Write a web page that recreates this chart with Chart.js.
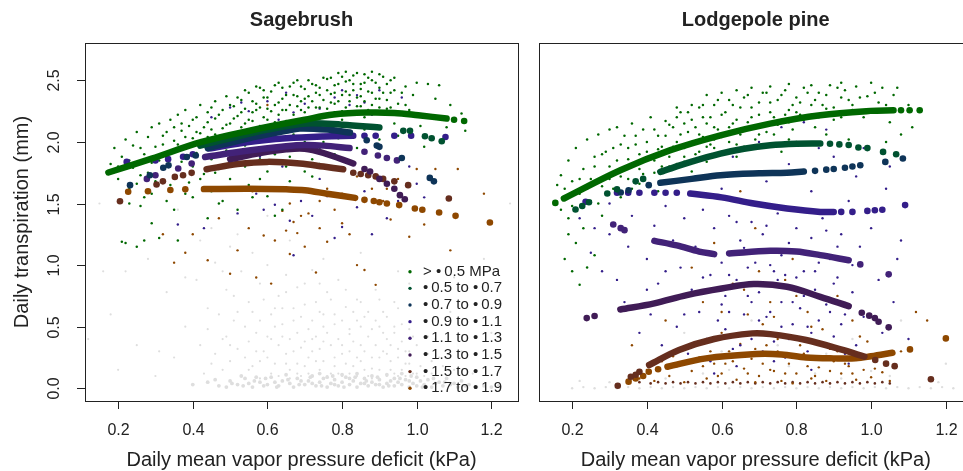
<!DOCTYPE html>
<html>
<head>
<meta charset="utf-8">
<script src="https://cdn.jsdelivr.net/npm/chart.js@4.4.1/dist/chart.umd.min.js"></script>
<style>
body { margin: 0; background: #fff; overflow: hidden; }
#wrap { position: relative; width: 963px; height: 471px; overflow: hidden; }
canvas { position: absolute; left: 0; top: 0; }
</style>
</head>
<body>
<div id="wrap">
<canvas id="sage" width="963" height="471"></canvas>
<canvas id="pine" width="990" height="471"></canvas>
</div>
<script>
// axis ranges + ticks
const xMin = 0.1113, xMax = 1.2713;
const yMin = -0.103, yMax = 2.803;
const xTicks = [0.2, 0.4, 0.6, 0.8, 1.0, 1.2];
const yTicks = [0.0, 0.5, 1.0, 1.5, 2.0, 2.5];

// soil water potential classes
const classes = ["> \u2022\u20090.5 MPa", "\u2022\u20090.5 to \u2022\u20090.7", "\u2022\u20090.7 to \u2022\u20090.9", "\u2022\u20090.9 to \u2022\u20091.1",
  "\u2022\u20091.1 to \u2022\u20091.3", "\u2022\u20091.3 to \u2022\u20091.5", "\u2022\u20091.5 to \u2022\u20091.7", "\u2022\u20091.7 to \u2022\u20091.9"];
const classColors = ["rgb(0,104,0)", "rgb(0,82,48)", "rgb(14,52,88)", "rgb(52,30,138)",
  "rgb(66,34,120)", "rgb(64,28,86)", "rgb(102,46,30)", "rgb(142,72,0)"];

// Sagebrush fitted curves (solid part) and loose dots
const sageFitX = [
  [0.174, 0.29, 0.424, 0.558, 0.70, 0.777, 0.866, 0.94, 1.004, 1.08],
  [0.42, 0.5, 0.6, 0.705, 0.8, 0.9],
  [0.44, 0.55, 0.65, 0.687, 0.76, 0.821],
  [0.442, 0.55, 0.65, 0.75, 0.83],
  [0.433, 0.55, 0.65, 0.70, 0.75, 0.82],
  [0.50, 0.58, 0.65, 0.70, 0.75, 0.83],
  [0.437, 0.52, 0.6, 0.687, 0.75, 0.803],
  [0.43, 0.55, 0.65, 0.70, 0.76, 0.835]
];
const sageFitY = [
  [1.752, 1.865, 2.0, 2.095, 2.18, 2.222, 2.238, 2.235, 2.216, 2.19],
  [1.97, 2.03, 2.10, 2.15, 2.14, 2.117],
  [1.95, 2.03, 2.09, 2.109, 2.10, 2.076],
  [1.946, 2.0, 2.03, 2.045, 2.05],
  [1.878, 1.93, 1.965, 1.975, 1.97, 1.95],
  [1.86, 1.91, 1.94, 1.945, 1.91, 1.825],
  [1.778, 1.82, 1.838, 1.825, 1.80, 1.778],
  [1.617, 1.62, 1.615, 1.608, 1.58, 1.546]
];
const sageDotX = [
  [1.10, 1.127],
  [0.964, 0.982, 1.022, 1.04, 1.067],
  [0.232, 0.285, 0.321, 0.335, 0.384, 0.408, 0.866, 0.893, 0.90, 0.96, 1.035, 1.046],
  [0.223, 0.30, 0.334, 0.374, 0.40, 0.86, 0.89, 0.94, 0.985, 1.077],
  [0.277, 0.30, 0.361, 0.397, 0.86, 0.896, 0.92, 0.947],
  [0.86, 0.875, 0.90, 0.92, 0.94, 0.955, 0.968],
  [0.205, 0.303, 0.32, 0.352, 0.374, 0.397, 0.83, 0.85, 0.87, 0.89, 0.91, 0.94, 0.977, 1.086],
  [0.227, 0.28, 0.34, 0.38, 0.86, 0.885, 0.90, 0.92, 0.953, 0.995, 1.015, 1.06, 1.104, 1.196]
];
const sageDotY = [
  [2.18, 2.17],
  [2.09, 2.09, 2.046, 2.03, 2.005],
  [1.649, 1.73, 1.79, 1.81, 1.878, 1.89, 2.014, 1.97, 1.96, 1.87, 1.708, 1.68],
  [1.838, 1.85, 1.86, 1.88, 1.90, 2.05, 2.05, 2.05, 2.05, 2.04],
  [1.70, 1.73, 1.784, 1.825, 1.92, 1.89, 1.87, 1.85],
  [1.78, 1.76, 1.70, 1.66, 1.62, 1.568, 1.535],
  [1.519, 1.654, 1.68, 1.716, 1.73, 1.749, 1.75, 1.74, 1.73, 1.72, 1.70, 1.68, 1.649, 1.541],
  [1.595, 1.60, 1.61, 1.615, 1.53, 1.52, 1.51, 1.50, 1.487, 1.46, 1.45, 1.427, 1.40, 1.346]
];

// Sagebrush raw daily points (x,y pairs)
const sageGreen = [
  0.18,1.82, 0.19,1.95, 0.20,1.70, 0.21,1.88, 0.22,2.02, 0.23,1.62, 0.24,1.79, 0.24,1.97, 0.25,2.08, 0.26,1.73,
  0.27,1.90, 0.27,1.55, 0.28,2.04, 0.29,1.83, 0.29,2.12, 0.30,1.68, 0.30,1.96, 0.31,2.15, 0.32,1.78, 0.32,2.05,
  0.21,1.19, 0.22,1.18, 0.25,1.15, 0.27,1.20, 0.29,1.34, 0.31,1.22, 0.23,1.50, 0.26,1.48, 0.33,1.52, 0.35,1.45,
  0.33,1.88, 0.34,2.18, 0.35,1.72, 0.35,2.01, 0.36,2.22, 0.37,1.84, 0.37,2.09, 0.38,1.95, 0.38,2.26, 0.39,1.67,
  0.39,2.13, 0.40,2.03, 0.40,1.80, 0.41,2.20, 0.41,1.91, 0.42,2.30, 0.42,2.07, 0.43,1.74, 0.43,1.98, 0.44,2.16,
  0.44,2.24, 0.45,1.86, 0.45,2.10, 0.45,1.60, 0.46,2.19, 0.46,2.33, 0.47,2.02, 0.47,1.78, 0.48,2.26, 0.48,2.11,
  0.49,1.93, 0.49,2.37, 0.50,2.15, 0.50,1.70, 0.51,2.29, 0.51,2.05, 0.52,2.21, 0.52,1.88, 0.53,2.34, 0.53,2.12,
  0.54,1.97, 0.54,2.27, 0.55,2.40, 0.55,2.18, 0.56,1.82, 0.56,2.24, 0.57,2.08, 0.57,2.31, 0.58,2.44, 0.58,1.95,
  0.59,2.20, 0.59,2.36, 0.60,2.27, 0.60,1.76, 0.47,1.50, 0.52,1.45, 0.56,1.55, 0.61,2.14, 0.61,2.41, 0.62,2.30,
  0.62,1.90, 0.63,2.48, 0.63,2.22, 0.64,2.02, 0.64,2.35, 0.65,2.26, 0.65,1.80, 0.66,2.45, 0.66,2.16, 0.67,2.38,
  0.67,2.06, 0.68,2.29, 0.68,2.50, 0.69,1.95, 0.69,2.33, 0.70,2.24, 0.70,2.43, 0.71,2.10, 0.71,2.37, 0.72,2.47,
  0.72,1.86, 0.73,2.28, 0.73,2.40, 0.74,2.19, 0.74,2.44, 0.75,2.34, 0.75,2.00, 0.64,1.45, 0.68,1.60, 0.72,1.72,
  0.76,2.51, 0.76,2.27, 0.77,2.39, 0.77,2.12, 0.78,2.46, 0.78,2.31, 0.79,2.56, 0.79,2.03, 0.80,2.38, 0.80,2.25,
  0.81,2.49, 0.81,2.57, 0.82,2.33, 0.82,2.15, 0.83,2.42, 0.83,2.54, 0.84,2.29, 0.84,1.95, 0.85,2.47, 0.85,2.37,
  0.86,2.55, 0.86,2.20, 0.87,2.41, 0.88,2.30, 0.88,2.50, 0.89,2.11, 0.90,2.44, 0.90,2.35, 0.91,2.53, 0.92,2.27,
  0.92,2.47, 0.93,2.40, 0.94,2.52, 0.95,2.31, 0.95,2.05, 0.97,2.45, 0.98,2.26, 1.00,2.48, 1.01,2.13, 1.03,2.47,
  1.05,2.35, 1.06,2.46, 1.08,2.12, 1.09,2.30, 1.12,2.23, 1.13,2.09, 1.02,1.96, 1.07,2.02, 0.58,1.70, 0.62,1.62,
  0.66,1.68, 0.70,1.76, 0.74,1.82, 0.78,1.90, 0.60,1.56, 0.55,1.65,
  0.36,1.98, 0.37,2.15, 0.38,2.04, 0.39,1.89, 0.40,2.18, 0.41,2.08, 0.42,1.96, 0.43,2.12, 0.44,2.04, 0.45,2.28,
  0.46,2.06, 0.47,2.22, 0.48,1.97, 0.49,2.14, 0.50,2.30, 0.50,2.02, 0.51,2.19, 0.52,2.36, 0.52,2.08, 0.53,2.24,
  0.54,2.15, 0.54,2.42, 0.55,2.09, 0.56,2.33, 0.56,2.17, 0.57,2.26, 0.57,2.45, 0.58,2.13, 0.58,2.28, 0.59,2.06,
  0.59,2.42, 0.60,2.18, 0.60,2.36, 0.61,2.25, 0.61,2.05, 0.62,2.46, 0.62,2.16, 0.63,2.32, 0.63,2.08, 0.64,2.26,
  0.64,2.44, 0.65,2.17, 0.65,2.38, 0.66,2.30, 0.66,2.04, 0.67,2.22, 0.67,2.48, 0.68,2.14, 0.68,2.37, 0.69,2.26,
  0.69,2.45, 0.70,2.10, 0.70,2.35, 0.71,2.28, 0.71,2.50, 0.72,2.18, 0.72,2.33, 0.73,2.46, 0.73,2.12, 0.74,2.38,
  0.74,2.28, 0.75,2.52, 0.75,2.22, 0.76,2.42, 0.76,2.16, 0.77,2.32, 0.77,2.52, 0.78,2.24, 0.78,2.40, 0.79,2.33,
  0.79,2.47, 0.80,2.18, 0.80,2.53, 0.81,2.41, 0.81,2.28, 0.82,2.50, 0.82,2.38, 0.83,2.24, 0.83,2.47, 0.84,2.36,
  0.84,2.56, 0.85,2.29, 0.85,2.43, 0.86,2.33, 0.86,2.48, 0.87,2.52, 0.87,2.26, 0.88,2.40, 0.88,2.57, 0.89,2.35,
  0.89,2.48, 0.90,2.28, 0.90,2.55, 0.91,2.40, 0.92,2.34, 0.93,2.50, 0.93,2.28, 0.94,2.42, 0.96,2.40, 0.97,2.30,
  0.99,2.38, 0.31,1.85, 0.32,1.98, 0.33,2.08, 0.34,1.92, 0.35,2.12, 0.28,1.75, 0.26,1.95, 0.23,1.85, 0.20,1.80,
  0.25,1.66, 0.34,1.65, 0.38,1.58, 0.42,1.70, 0.46,1.75, 0.50,1.85, 0.54,1.80, 0.58,1.86, 0.62,1.96, 0.66,1.88,
  0.70,2.00, 0.74,1.94, 0.78,2.08, 0.82,2.05, 0.86,2.10, 0.90,2.02, 0.94,2.15, 0.40,1.55, 0.48,1.52, 0.62,1.40,
  0.44,1.38, 0.36,1.20, 0.29,1.58
];
const sagePurple = [
  0.45,2.20, 0.50,2.28, 0.55,2.25, 0.60,2.33, 0.63,2.18, 0.67,2.24, 0.70,2.31, 0.74,2.27, 0.78,2.36, 0.82,2.30,
  0.86,2.32, 0.90,2.42, 0.96,2.36, 0.40,1.75, 0.48,1.63, 0.52,1.42, 0.57,1.58, 0.62,1.49, 0.66,1.36, 0.69,1.52,
  0.72,1.40, 0.76,1.56, 0.80,1.31, 0.84,1.47, 0.88,1.25, 0.92,1.38, 0.95,1.52, 1.00,1.66, 0.43,1.30, 0.36,1.33,
  0.67,1.08, 0.78,1.22, 0.74,1.70, 0.86,1.60, 0.98,1.80, 1.02,1.55, 0.58,1.88, 0.64,1.80, 0.53,2.32, 0.65,2.40,
  0.72,2.20, 0.80,2.42, 0.84,2.38, 0.88,2.22, 0.59,1.45, 0.70,1.62, 0.82,1.54, 0.90,1.70
];
const sageBrown = [
  0.32,1.25, 0.35,1.02, 0.38,1.10, 0.40,1.25, 0.44,1.04, 0.47,1.38, 0.50,0.93, 0.52,1.12, 0.55,1.30, 0.57,0.90,
  0.59,1.24, 0.61,0.85, 0.62,1.20, 0.64,1.44, 0.65,1.28, 0.66,1.09, 0.67,1.35, 0.68,1.26, 0.70,1.15, 0.71,1.42,
  0.73,0.94, 0.74,1.30, 0.76,1.19, 0.78,1.45, 0.80,1.34, 0.82,1.25, 0.84,1.00, 0.86,0.96, 0.88,1.62, 0.89,0.84,
  0.91,1.52, 0.93,1.37, 0.95,1.70, 0.98,1.23, 1.00,1.78, 1.02,1.33, 1.05,1.78, 1.09,1.12, 1.11,1.78, 1.18,1.58,
  0.60,2.30, 0.72,2.14, 0.56,1.60, 0.76,1.62, 0.84,1.72, 0.92,1.62, 0.66,1.50, 0.69,1.40, 0.74,1.52, 0.80,1.58
];
const sageGray = [
  0.15,1.50, 0.18,0.60, 0.22,0.95, 0.28,1.05, 0.31,0.30, 0.33,0.78, 0.36,1.45, 0.38,0.50, 0.41,0.88, 0.42,1.20,
  0.44,0.65, 0.46,1.02, 0.48,0.40, 0.49,0.80, 0.50,1.15, 0.51,0.55, 0.53,0.95, 0.54,0.25, 0.55,0.70, 0.56,1.10,
  0.57,0.45, 0.58,0.85, 0.59,0.30, 0.60,1.00, 0.61,0.60, 0.62,0.20, 0.63,0.75, 0.64,0.42, 0.65,0.92, 0.66,0.15,
  0.67,0.55, 0.68,0.82, 0.69,0.33, 0.70,0.68, 0.71,0.48, 0.72,0.96, 0.73,0.22, 0.74,0.62, 0.75,0.38, 0.76,0.78,
  0.77,0.12, 0.78,0.52, 0.79,0.88, 0.80,0.28, 0.81,0.66, 0.82,0.44, 0.83,0.18, 0.84,0.72, 0.85,0.35, 0.86,0.58,
  0.87,0.10, 0.88,0.48, 0.89,0.80, 0.90,0.25, 0.91,0.62, 0.92,0.40, 0.93,0.15, 0.94,0.70, 0.95,0.32, 0.96,0.52,
  0.97,0.20, 0.98,0.85, 0.99,0.42, 1.00,0.12, 1.02,0.55, 1.03,0.28, 1.05,0.40, 1.07,0.18, 1.09,0.62, 1.12,0.30,
  1.15,0.12, 1.20,0.45, 1.25,1.50, 0.45,0.20, 0.50,0.35, 0.55,0.15, 0.60,0.42, 0.65,0.28, 0.70,0.18, 0.75,0.50,
  0.80,0.10, 0.85,0.22, 0.90,0.50, 0.95,0.10, 0.52,0.62, 0.62,0.50, 0.72,0.40, 0.82,0.30, 0.92,0.28, 0.58,0.22,
  0.68,0.12, 0.78,0.25, 0.88,0.16, 0.98,0.30, 0.64,0.65, 0.74,0.85, 0.84,0.55, 0.94,0.45, 1.04,0.22,
  0.42,0.35, 0.43,0.12, 0.44,0.48, 0.46,0.28, 0.47,0.60, 0.48,0.15, 0.49,0.42, 0.50,0.22, 0.51,0.75, 0.52,0.32,
  0.53,0.10, 0.54,0.50, 0.55,0.38, 0.56,0.62, 0.56,0.18, 0.57,0.30, 0.58,0.55, 0.58,0.08, 0.59,0.72, 0.60,0.25,
  0.61,0.40, 0.61,0.12, 0.62,0.65, 0.63,0.35, 0.63,0.10, 0.64,0.52, 0.65,0.20, 0.65,0.78, 0.66,0.40, 0.66,0.08,
  0.67,0.30, 0.67,0.65, 0.68,0.45, 0.68,0.20, 0.69,0.58, 0.69,0.10, 0.70,0.38, 0.70,0.85, 0.71,0.25, 0.71,0.12,
  0.72,0.55, 0.72,0.30, 0.73,0.70, 0.73,0.42, 0.74,0.15, 0.74,0.32, 0.75,0.60, 0.75,0.22, 0.76,0.45, 0.76,0.10,
  0.77,0.35, 0.77,0.72, 0.78,0.18, 0.78,0.60, 0.79,0.40, 0.79,0.12, 0.80,0.55, 0.80,0.35, 0.81,0.20, 0.81,0.80,
  0.82,0.48, 0.82,0.12, 0.83,0.38, 0.83,0.62, 0.84,0.25, 0.84,0.10, 0.85,0.50, 0.85,0.70, 0.86,0.30, 0.86,0.15,
  0.87,0.42, 0.87,0.62, 0.88,0.25, 0.88,0.08, 0.89,0.35, 0.89,0.55, 0.90,0.15, 0.90,0.72, 0.91,0.30, 0.91,0.45,
  0.92,0.10, 0.92,0.58, 0.93,0.35, 0.93,0.22, 0.94,0.12, 0.94,0.50, 0.95,0.25, 0.95,0.65, 0.96,0.15, 0.96,0.38,
  0.97,0.30, 0.97,0.10, 0.98,0.48, 0.98,0.20, 0.99,0.12, 1.00,0.35, 1.01,0.18, 1.02,0.10, 1.03,0.42, 1.04,0.12,
  1.06,0.25, 1.08,0.08, 1.10,0.15, 0.35,0.25, 0.30,0.10, 0.25,0.35, 0.20,0.15, 0.38,0.90, 0.45,1.30, 0.52,1.25,
  0.60,1.40, 0.48,0.95, 0.66,1.20, 0.75,1.05, 0.85,1.10, 0.95,0.95, 1.10,0.90, 1.18,1.05, 0.16,0.95, 0.12,0.40,
  1.22,0.30
];
const sageGrayBand = [
  0.40,0.03, 0.44,0.05, 0.47,0.02, 0.50,0.06, 0.52,0.03, 0.54,0.08, 0.56,0.01, 0.58,0.05, 0.60,0.03, 0.61,0.09,
  0.63,0.02, 0.64,0.06, 0.66,0.04, 0.67,0.01, 0.68,0.08, 0.70,0.03, 0.71,0.06, 0.72,0.10, 0.73,0.02, 0.74,0.05,
  0.75,0.08, 0.76,0.01, 0.77,0.04, 0.78,0.07, 0.79,0.02, 0.80,0.05, 0.81,0.09, 0.82,0.03, 0.83,0.06, 0.84,0.01,
  0.85,0.04, 0.86,0.08, 0.87,0.02, 0.88,0.05, 0.89,0.03, 0.90,0.07, 0.91,0.01, 0.92,0.04, 0.93,0.06, 0.94,0.02,
  0.95,0.05, 0.96,0.03, 0.97,0.07, 0.98,0.01, 0.99,0.04, 1.00,0.02, 1.01,0.06, 1.02,0.03, 1.04,0.01, 1.05,0.04,
  1.07,0.02, 1.09,0.03, 1.11,0.01, 1.13,0.02, 1.16,0.01,
  0.46,0.07, 0.49,0.01, 0.53,0.10, 0.55,0.04, 0.57,0.09, 0.59,0.02, 0.62,0.05, 0.65,0.11, 0.69,0.06, 0.72,0.04,
  0.74,0.12, 0.76,0.09, 0.78,0.03, 0.80,0.11, 0.82,0.08, 0.84,0.12, 0.86,0.04, 0.88,0.10, 0.90,0.03, 0.92,0.11,
  0.94,0.08, 0.96,0.12, 0.98,0.06, 1.00,0.09, 1.03,0.07, 1.06,0.05, 1.08,0.08, 1.10,0.04, 1.12,0.06, 1.14,0.03,
  1.18,0.02, 1.20,0.01, 1.22,0.02,
  0.505,0.04, 0.535,0.02, 0.565,0.06, 0.595,0.08, 0.625,0.01, 0.655,0.07, 0.685,0.03, 0.715,0.09, 0.745,0.02, 0.775,0.10,
  0.805,0.01, 0.835,0.09, 0.865,0.06, 0.895,0.09, 0.925,0.02, 0.955,0.08, 0.985,0.10, 1.015,0.01, 1.045,0.08, 1.075,0.05
];

// Lodgepole pine fitted curves (null = gap in the curve)
const pineFitX = [
  [0.178, 0.329, 0.463, 0.597, 0.73, 0.864, 0.998, 1.06],
  [0.436, 0.52, 0.597, 0.66, 0.73, 0.80, 0.864],
  [0.436, 0.52, 0.597, 0.70, 0.775, 0.82],
  [0.516, 0.60, 0.686, 0.775, 0.864, 0.90],
  [0.42, 0.48, 0.54, 0.58, 0.60, 0.62, 0.73, 0.80, 0.864, 0.94],
  [0.329, 0.42, 0.507, 0.60, 0.686, 0.775, 0.864, 0.94],
  [0.406, 0.486, 0.58, 0.682, 0.73, 0.826, 0.924, 0.982],
  [0.455, 0.558, 0.692, 0.76, 0.826, 0.9, 0.959, 1.0, 1.057]
];
const pineFitY = [
  [1.541, 1.77, 1.933, 2.054, 2.149, 2.217, 2.252, 2.257],
  [1.757, 1.84, 1.905, 1.945, 1.973, 1.985, 1.987],
  [1.668, 1.70, 1.73, 1.745, 1.749, 1.76],
  [1.581, 1.55, 1.50, 1.46, 1.432, 1.432],
  [1.197, 1.16, 1.11, 1.089, null, 1.095, 1.116, 1.11, 1.081, 1.04],
  [0.64, 0.69, 0.757, 0.81, 0.846, 0.824, 0.743, 0.667],
  [0.189, 0.311, 0.40, 0.446, 0.44, 0.392, 0.311, 0.257],
  [0.175, 0.243, 0.278, 0.275, 0.251, 0.243, 0.243, 0.26, 0.289]
];
const pineDotX = [
  [0.155, 1.08, 1.103, 1.13],
  [0.209, 0.227, 0.245, 0.294, 0.32, 0.37, 0.39, 0.89, 0.915, 0.94, 0.966, 0.99, 1.032, 1.067],
  [0.33, 0.351, 0.405, 0.85, 0.88, 0.90, 0.93, 0.95, 0.971, 1.038, 1.085],
  [0.236, 0.32, 0.35, 0.38, 0.42, 0.45, 0.48, 0.92, 0.95, 0.99, 1.01, 1.03, 1.091],
  [0.31, 0.33, 0.34, 0.971, 1.047],
  [0.239, 0.26, 0.975, 0.995, 1.01, 1.02, 1.047],
  [0.322, 0.357, 0.37, 0.38, 1.011, 1.04, 1.063, 1.16],
  [0.351, 0.37, 0.39, 0.405, 0.43, 1.104, 1.20]
];
const pineDotY = [
  [1.505, 2.257, 2.257, 2.257],
  [1.451, 1.48, 1.51, 1.581, 1.615, 1.68, 1.70, 1.985, 1.98, 1.975, 1.955, 1.95, 1.919, 1.90],
  [1.59, 1.608, 1.649, 1.765, 1.775, 1.78, 1.79, 1.80, 1.811, 1.838, 1.865],
  [1.514, 1.587, 1.587, 1.587, 1.587, 1.587, 1.587, 1.432, 1.432, 1.44, 1.445, 1.45, 1.487],
  [1.33, 1.30, 1.284, 1.006, 0.925],
  [0.57, 0.587, 0.613, 0.59, 0.57, 0.54, 0.495],
  [0.021, 0.094, 0.11, 0.135, 0.23, 0.20, 0.18, 0.073],
  [0.054, 0.08, 0.10, 0.135, 0.155, 0.316, 0.405]
];

// Lodgepole pine raw daily points
const pineGreen = [
  0.17,1.73, 0.18,1.62, 0.19,1.85, 0.20,1.68, 0.21,1.95, 0.22,1.58, 0.23,1.78, 0.24,2.02, 0.25,1.70, 0.26,1.88,
  0.27,2.06, 0.28,1.64, 0.29,1.92, 0.30,1.80, 0.30,2.10, 0.17,1.45, 0.19,1.38, 0.21,1.18, 0.23,1.30, 0.20,0.95,
  0.22,0.84, 0.24,0.98, 0.26,1.08, 0.18,1.05, 0.28,1.40, 0.25,1.52, 0.31,1.95, 0.32,2.12, 0.33,1.72, 0.34,2.05,
  0.35,1.86, 0.36,2.15, 0.37,1.98, 0.38,1.78, 0.39,2.10, 0.40,1.92, 0.41,2.20, 0.42,1.85, 0.43,2.05, 0.44,1.96,
  0.45,2.17, 0.33,1.55, 0.36,1.62, 0.40,1.65, 0.43,1.60, 0.46,1.88, 0.47,2.12, 0.48,2.00, 0.49,2.24, 0.50,1.95,
  0.51,2.08, 0.52,2.18, 0.53,1.90, 0.54,2.28, 0.55,2.04, 0.56,2.15, 0.57,1.98, 0.58,2.30, 0.59,2.10, 0.60,2.22,
  0.48,1.82, 0.52,1.76, 0.56,1.84, 0.60,1.92, 0.50,2.15, 0.55,2.20, 0.58,2.02, 0.61,2.05, 0.62,2.34, 0.63,2.15,
  0.64,1.98, 0.65,2.28, 0.66,2.10, 0.67,2.38, 0.68,2.20, 0.69,2.02, 0.70,2.32, 0.71,2.14, 0.72,2.40, 0.73,2.24,
  0.74,2.06, 0.75,2.34, 0.76,2.18, 0.77,2.42, 0.78,2.26, 0.79,2.10, 0.80,2.36, 0.64,1.88, 0.70,1.95, 0.76,1.92,
  0.80,2.00, 0.81,2.22, 0.82,2.44, 0.84,2.30, 0.85,2.12, 0.86,2.40, 0.88,2.27, 0.89,2.46, 0.90,2.18, 0.92,2.36,
  0.93,2.42, 0.95,2.30, 0.96,2.45, 0.98,2.20, 0.99,2.37, 1.00,2.48, 1.02,2.32, 1.03,2.44, 1.05,2.16, 1.06,2.38,
  1.08,2.06, 1.10,2.30, 1.11,2.12, 0.88,2.06, 0.94,2.02, 1.04,2.00,
  0.32,1.85, 0.33,1.98, 0.34,1.78, 0.35,1.95, 0.36,1.82, 0.37,2.05, 0.38,1.90, 0.39,1.74, 0.40,2.00, 0.41,1.86,
  0.42,2.10, 0.43,1.94, 0.44,1.80, 0.45,2.05, 0.46,2.14, 0.47,1.96, 0.48,2.20, 0.49,2.06, 0.50,1.88, 0.51,2.24,
  0.52,2.00, 0.53,2.12, 0.54,2.06, 0.55,2.30, 0.56,1.96, 0.57,2.20, 0.58,2.12, 0.59,2.34, 0.60,2.04, 0.61,2.24,
  0.62,2.12, 0.63,2.30, 0.64,2.18, 0.65,2.06, 0.66,2.36, 0.67,2.16, 0.68,2.28, 0.69,2.12, 0.70,2.22, 0.71,2.40,
  0.72,2.08, 0.73,2.32, 0.74,2.20, 0.75,2.14, 0.76,2.38, 0.77,2.22, 0.78,2.16, 0.79,2.30, 0.80,2.24, 0.81,2.32,
  0.82,2.18, 0.83,2.40, 0.84,2.22, 0.85,2.34, 0.86,2.20, 0.87,2.30, 0.88,2.38, 0.90,2.28, 0.91,2.44, 0.92,2.20,
  0.94,2.34, 0.95,2.26, 0.97,2.36, 1.01,2.40, 1.04,2.30, 1.07,2.44, 0.35,1.70, 0.38,1.66, 0.42,1.75, 0.46,1.80,
  0.50,1.84, 0.54,1.92, 0.58,1.95, 0.62,2.00, 0.66,1.96, 0.70,2.06, 0.74,1.98, 0.78,2.02, 0.20,1.48, 0.22,1.70,
  0.24,1.62, 0.26,1.80, 0.28,1.90, 0.30,1.70, 0.19,1.25, 0.27,1.50, 0.31,1.62, 0.16,1.65, 0.56,2.38, 0.60,2.40,
  0.64,2.42, 0.68,2.44, 0.73,2.45, 0.78,2.47, 0.84,2.46, 0.92,2.48, 0.52,2.30, 0.48,2.28
];
const pinePurple = [
  0.22,1.38, 0.25,1.10, 0.28,0.95, 0.30,1.25, 0.32,0.88, 0.34,0.70, 0.36,1.40, 0.38,0.45, 0.40,1.05, 0.41,0.60,
  0.42,1.32, 0.43,0.85, 0.44,0.35, 0.45,1.48, 0.46,0.72, 0.47,1.20, 0.48,0.50, 0.49,0.98, 0.50,1.38, 0.51,0.28,
  0.52,0.80, 0.53,1.15, 0.54,0.62, 0.55,1.45, 0.56,0.40, 0.57,0.92, 0.58,1.30, 0.59,0.55, 0.60,1.02, 0.61,0.75,
  0.62,1.40, 0.63,0.32, 0.64,0.88, 0.65,1.20, 0.66,0.60, 0.67,0.98, 0.68,1.35, 0.69,0.45, 0.70,0.78, 0.71,1.25,
  0.72,0.58, 0.73,1.00, 0.74,0.38, 0.75,1.42, 0.76,0.70, 0.77,0.92, 0.78,1.18, 0.79,0.52, 0.80,1.30, 0.81,0.65,
  0.82,0.95, 0.83,0.30, 0.84,1.22, 0.85,0.80, 0.86,0.55, 0.87,1.38, 0.88,0.68, 0.89,1.05, 0.90,0.42, 0.91,0.90,
  0.92,1.25, 0.93,0.60, 0.94,1.52, 0.95,0.78, 0.96,0.35, 0.97,1.15, 0.98,0.58, 1.00,1.30, 1.02,0.88, 1.04,1.62,
  1.06,0.70, 1.08,1.20, 1.10,0.40, 0.60,1.62, 0.66,1.75, 0.72,1.68, 0.78,1.82, 0.84,1.60, 0.90,1.88, 0.96,1.72,
  0.70,2.00, 0.76,2.12, 0.82,2.16, 0.88,2.10, 0.64,0.18, 0.74,0.22, 0.84,0.15, 0.94,0.20, 0.58,0.12, 0.68,0.70,
  0.62,0.92, 0.72,0.84, 0.80,0.90, 0.86,1.02, 0.56,1.10, 0.66,1.14, 0.76,1.08, 0.92,0.52,
  0.57,0.22, 0.59,0.80, 0.61,0.48, 0.63,1.10, 0.65,0.35, 0.67,0.75, 0.69,1.02, 0.71,0.30, 0.73,0.62, 0.75,0.88,
  0.77,0.25, 0.79,0.70, 0.81,1.12, 0.83,0.50, 0.85,0.95, 0.87,0.35, 0.89,0.62, 0.91,1.15, 0.93,0.28, 0.95,1.00,
  0.62,0.62, 0.66,0.85, 0.70,0.55, 0.74,0.95, 0.78,0.40, 0.82,0.75, 0.86,0.25, 0.90,0.85, 0.64,1.35, 0.72,1.32,
  0.80,1.45, 0.88,1.28, 0.68,0.40, 0.76,0.50, 0.84,0.45, 0.60,0.68, 0.55,0.90, 0.50,0.60, 0.45,0.95, 0.40,0.80,
  0.35,1.15, 0.30,1.50, 0.26,1.30, 0.53,1.72, 0.63,1.88, 0.86,1.95, 0.98,1.95, 1.05,1.80, 1.07,1.05, 0.99,0.25,
  1.03,0.45
];
const pineBrown = [
  0.38,0.08, 0.40,0.15, 0.42,0.06, 0.44,0.22, 0.46,0.10, 0.48,0.18, 0.50,0.05, 0.52,0.14, 0.54,0.25, 0.56,0.08,
  0.58,0.20, 0.60,0.12, 0.62,0.30, 0.64,0.07, 0.66,0.16, 0.68,0.24, 0.70,0.10, 0.72,0.35, 0.74,0.14, 0.76,0.06,
  0.78,0.20, 0.80,0.12, 0.82,0.28, 0.84,0.08, 0.86,0.17, 0.88,0.06, 0.90,0.22, 0.92,0.12, 0.94,0.18, 0.96,0.07,
  0.98,0.15, 1.00,0.09, 1.03,0.13, 1.05,0.06, 0.36,0.35, 0.45,0.55, 0.52,0.98, 0.55,0.70, 0.58,1.18, 0.60,0.45,
  0.63,0.85, 0.65,1.60, 0.67,0.60, 0.69,1.30, 0.71,0.52, 0.73,1.10, 0.75,0.40, 0.77,0.88, 0.79,1.05, 0.83,0.62,
  0.87,0.48, 0.91,0.75, 0.95,0.55, 0.99,0.38, 1.08,0.30, 1.12,0.62, 1.15,0.55, 0.73,0.70, 0.61,0.20, 0.69,0.05,
  0.79,0.04, 0.89,0.32, 0.97,0.42,
  0.47,0.26, 0.51,0.32, 0.55,0.18, 0.57,0.30, 0.59,0.10, 0.63,0.22, 0.65,0.36, 0.67,0.12, 0.69,0.32, 0.71,0.20,
  0.73,0.15, 0.75,0.30, 0.77,0.12, 0.79,0.25, 0.81,0.35, 0.83,0.18, 0.85,0.10, 0.87,0.24, 0.89,0.14, 0.91,0.30,
  0.93,0.20, 0.95,0.12, 0.97,0.24, 1.01,0.16, 0.74,0.58, 0.80,0.75, 0.70,0.95, 0.66,0.80, 0.60,0.62, 0.84,0.50
];
const pineBaseRow = [
  0.38,0.05, 0.41,0.04, 0.43,0.05, 0.45,0.04, 0.47,0.05, 0.49,0.04, 0.51,0.05, 0.53,0.04, 0.55,0.05, 0.57,0.04,
  0.59,0.05, 0.61,0.04, 0.63,0.05, 0.65,0.04, 0.67,0.05, 0.69,0.04, 0.71,0.05, 0.73,0.04, 0.75,0.05, 0.77,0.04,
  0.79,0.05, 0.81,0.04, 0.83,0.05, 0.85,0.04, 0.87,0.05, 0.89,0.04, 0.91,0.05, 0.93,0.04, 0.95,0.05, 0.97,0.04,
  0.99,0.05, 1.01,0.04, 1.03,0.05, 1.05,0.04
];
const pineGray = [
  0.20,0.00, 0.23,0.01, 0.26,0.00, 0.29,0.01, 0.32,0.00, 0.35,0.01, 0.38,0.00, 0.41,0.01, 0.44,0.00, 0.47,0.01,
  0.50,0.00, 0.53,0.01, 0.56,0.00, 0.59,0.01, 0.62,0.00, 0.65,0.01, 0.68,0.00, 0.71,0.01, 0.74,0.00, 0.77,0.01,
  0.80,0.00, 0.83,0.01, 0.86,0.00, 0.89,0.01, 0.92,0.00, 0.95,0.01, 0.98,0.00, 1.01,0.01, 1.04,0.00, 1.07,0.01,
  1.10,0.00, 1.13,0.01, 1.16,0.00, 1.19,0.01, 1.22,0.00, 1.25,0.01, 0.22,0.06, 0.30,0.05, 0.45,0.08, 0.55,0.12,
  0.62,0.15, 0.70,0.10, 0.78,0.18, 0.85,0.12, 0.92,0.08, 1.00,0.14, 1.05,0.10, 1.18,0.05, 0.60,0.30, 0.75,0.35,
  0.88,0.28, 0.95,0.40, 1.08,0.55, 1.20,0.20, 0.50,0.45, 0.68,0.55
];

const FONT = '"Liberation Sans", Arial, Helvetica, sans-serif';
const GRAY = "rgb(222,222,222)";

function zipXY(xs, ys) {
  return xs.map((x, i) => ({ x: x, y: ys[i] }));
}
function pairs(a) {
  let out = [];
  for (let i = 0; i < a.length; i += 2) out.push({ x: a[i], y: a[i + 1] });
  return out;
}
function cloud(data, color, r, order) {
  return { data: pairs(data), backgroundColor: color, borderWidth: 0, pointRadius: r, order: order };
}

function buildSets(fitX, fitY, dotX, dotY, clouds) {
  let sets = [];
  for (let k = 0; k < classes.length; k++) {
    sets.push({
      data: zipXY(fitX[k], fitY[k]), showLine: true, spanGaps: false,
      borderColor: classColors[k], borderWidth: 6.5, tension: 0.35,
      borderCapStyle: 'round', borderJoinStyle: 'round',
      pointRadius: 0, order: 1 + k
    });
    sets.push({
      data: zipXY(dotX[k], dotY[k]), backgroundColor: classColors[k],
      borderWidth: 0, pointRadius: 3.3, order: 1 + k
    });
  }
  return sets.concat(clouds);
}

// R-like box, ticks, labels, titles, legend
const rAxes = {
  id: 'rAxes',
  afterDraw(chart, args, o) {
    const ctx = chart.ctx, a = chart.chartArea;
    const sx = chart.scales.x, sy = chart.scales.y;
    ctx.save();
    ctx.strokeStyle = '#222';
    ctx.lineWidth = 1;
    ctx.strokeRect(Math.round(a.left) + 0.5, Math.round(a.top) + 0.5, Math.round(a.right - a.left), Math.round(a.bottom - a.top));
    ctx.fillStyle = '#222';

    // x ticks
    ctx.font = '16px ' + FONT;
    ctx.textAlign = 'center';
    ctx.textBaseline = 'middle';
    xTicks.forEach((t) => {
      let px = Math.round(sx.getPixelForValue(t)) + 0.5;
      ctx.beginPath();
      ctx.moveTo(px, a.bottom);
      ctx.lineTo(px, a.bottom + 8);
      ctx.stroke();
      ctx.fillText(t.toFixed(1), px, a.bottom + 30);
    });
    ctx.font = '20px ' + FONT;
    ctx.fillText('Daily mean vapor pressure deficit (kPa)', (a.left + a.right) / 2, 460);

    // panel title
    ctx.font = 'bold 20px ' + FONT;
    ctx.fillText(o.title, (a.left + a.right) / 2, 20);

    if (o.yAxis) {
      ctx.font = '16px ' + FONT;
      yTicks.forEach((t) => {
        let py = Math.round(sy.getPixelForValue(t)) + 0.5;
        ctx.beginPath();
        ctx.moveTo(a.left - 8, py);
        ctx.lineTo(a.left, py);
        ctx.stroke();
        ctx.save();
        ctx.translate(a.left - 30, py);
        ctx.rotate(-Math.PI / 2);
        ctx.fillText(t.toFixed(1), 0, 0);
        ctx.restore();
      });
      ctx.save();
      ctx.font = '20px ' + FONT;
      ctx.translate(22, (a.top + a.bottom) / 2);
      ctx.rotate(-Math.PI / 2);
      ctx.fillText('Daily transpiration (mm)', 0, 0);
      ctx.restore();
    }

    if (o.legend) {
      ctx.font = '15px ' + FONT;
      ctx.textAlign = 'left';
      classes.forEach((lab, i) => {
        let py = a.bottom - 129.3 + i * 16.65;
        ctx.fillStyle = classColors[i];
        ctx.beginPath();
        ctx.arc(a.right - 108, py, 1.7, 0, Math.PI * 2);
        ctx.fill();
        ctx.fillStyle = '#222';
        ctx.fillText(lab, a.right - 95, py);
      });
    }
    ctx.restore();
  }
};

function makePanel(id, pad, sets, plugOpts) {
  return new Chart(document.getElementById(id), {
    type: 'scatter',
    data: { datasets: sets },
    options: {
      responsive: false,
      animation: false,
      events: [],
      layout: { padding: pad },
      plugins: { legend: { display: false }, tooltip: { enabled: false }, rAxes: plugOpts },
      scales: {
        x: { type: 'linear', min: xMin, max: xMax, display: false },
        y: { type: 'linear', min: yMin, max: yMax, display: false }
      }
    },
    plugins: [rAxes]
  });
}

const sageSets = buildSets(sageFitX, sageFitY, sageDotX, sageDotY, [
  cloud(sageGreen, classColors[0], 1.25, 20),
  cloud(sagePurple, classColors[3], 1.2, 21),
  cloud(sageBrown, classColors[7], 1.2, 22),
  cloud(sageGray, GRAY, 1.1, 30),
  cloud(sageGrayBand, GRAY, 1.9, 31)
]);
const pineSets = buildSets(pineFitX, pineFitY, pineDotX, pineDotY, [
  cloud(pineGreen, classColors[0], 1.25, 20),
  cloud(pinePurple, classColors[3], 1.2, 21),
  cloud(pineBrown, classColors[7], 1.2, 22),
  cloud(pineBaseRow, classColors[6], 1.3, 23),
  cloud(pineGray, GRAY, 1.2, 30)
]);

makePanel('sage', { left: 85, right: 445, top: 43, bottom: 70 }, sageSets,
  { title: 'Sagebrush', yAxis: true, legend: true });
makePanel('pine', { left: 539, right: 17.5, top: 43, bottom: 70 }, pineSets,
  { title: 'Lodgepole pine', yAxis: false, legend: false });
</script>
</body>
</html>
